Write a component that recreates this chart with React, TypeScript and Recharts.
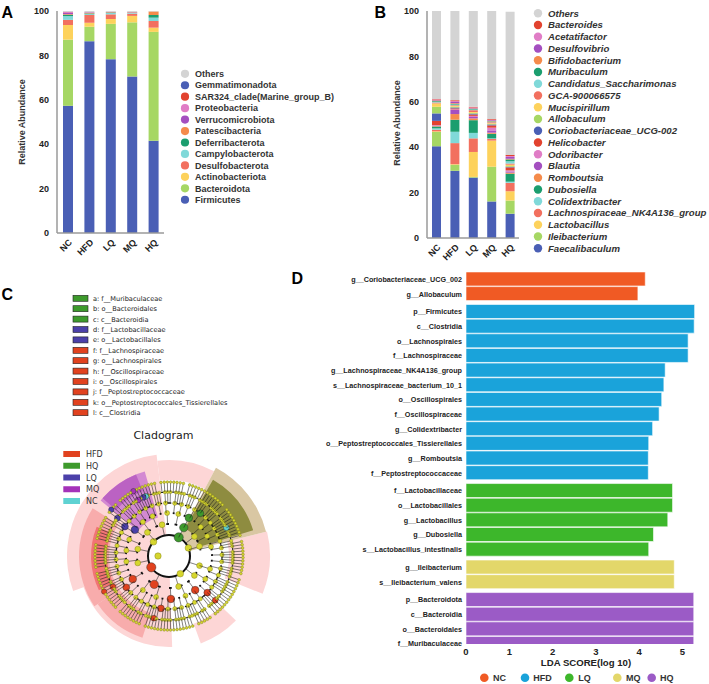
import React from 'react'
import { BarChart, Bar, XAxis, YAxis, Cell, PieChart, Pie } from 'recharts'

const groups = ['NC', 'HFD', 'LQ', 'MQ', 'HQ']

// A: phylum level relative abundance (%), bottom of the stack first
const phyla = [
  'Firmicutes',
  'Bacteroidota',
  'Actinobacteriota',
  'Desulfobacterota',
  'Campylobacterota',
  'Deferribacterota',
  'Patescibacteria',
  'Verrucomicrobiota',
  'Proteobacteria',
  'SAR324_clade(Marine_group_B)',
  'Gemmatimonadota',
  'Others',
]
const phylumValues = [
  [57.3, 86.4, 78.3, 70.5, 41.6],
  [29.8, 6.5, 15.9, 24.4, 49.0],
  [6.6, 1.8, 2.2, 2.9, 1.9],
  [2.3, 3.5, 2.1, 1.0, 3.0],
  [1.7, 0.4, 0.6, 0.3, 1.5],
  [0.6, 0.3, 0.2, 0.1, 1.2],
  [0.3, 0.2, 0.2, 0.2, 1.6],
  [0.5, 0.1, 0.1, 0.1, 0.0],
  [0.4, 0.2, 0.1, 0.1, 0.0],
  [0.1, 0.05, 0.0, 0.0, 0.0],
  [0.1, 0.05, 0.0, 0.0, 0.0],
  [0.3, 0.5, 0.3, 0.4, 0.2],
]

// B: genus level relative abundance (%), bottom of the stack first
const genera = [
  'Faecalibaculum',
  'Ileibacterium',
  'Lactobacillus',
  'Lachnospiraceae_NK4A136_group',
  'Colidextribacter',
  'Dubosiella',
  'Romboutsia',
  'Blautia',
  'Odoribacter',
  'Helicobacter',
  'Coriobacteriaceae_UCG-002',
  'Allobaculum',
  'Mucispirillum',
  'GCA-900066575',
  'Candidatus_Saccharimonas',
  'Muribaculum',
  'Bifidobacterium',
  'Desulfovibrio',
  'Acetatifactor',
  'Bacteroides',
  'Others',
]
const genusValues = [
  [40.4, 29.6, 26.6, 16.1, 10.7],
  [6.3, 2.6, 0.3, 15.3, 5.8],
  [0.3, 0.3, 11.0, 11.5, 4.1],
  [0.7, 9.3, 6.0, 0.7, 3.7],
  [0.6, 5.0, 2.4, 0.3, 0.5],
  [0.8, 5.3, 5.6, 2.0, 3.5],
  [0.2, 2.5, 0.8, 0.5, 0.5],
  [0.2, 1.8, 0.6, 1.0, 0.5],
  [0.2, 0.3, 0.5, 1.2, 0.5],
  [1.9, 0.4, 0.6, 1.0, 1.3],
  [3.3, 0.4, 0.4, 0.4, 0.3],
  [2.9, 0.3, 0.3, 0.3, 0.3],
  [1.5, 0.4, 0.4, 0.3, 0.6],
  [0.4, 0.3, 0.8, 0.4, 0.5],
  [0.3, 0.3, 0.3, 0.2, 1.0],
  [0.3, 0.3, 0.3, 0.2, 0.8],
  [0.3, 0.3, 0.2, 0.2, 0.3],
  [0.2, 0.5, 0.2, 0.3, 0.8],
  [0.2, 0.4, 0.2, 0.2, 0.4],
  [0.2, 0.4, 0.3, 0.3, 0.5],
  [38.8, 39.3, 42.2, 47.6, 63.1],
]

// D: LEfSe biomarkers
const ldaTaxa = [
  'g__Coriobacteriaceae_UCG_002',
  'g__Allobaculum',
  'p__Firmicutes',
  'c__Clostridia',
  'o__Lachnospirales',
  'f__Lachnospiraceae',
  'g__Lachnospiraceae_NK4A136_group',
  's__Lachnospiraceae_bacterium_10_1',
  'o__Oscillospirales',
  'f__Oscillospiraceae',
  'g__Colidextribacter',
  'o__Peptostreptococcales_Tissierellales',
  'g__Romboutsia',
  'f__Peptostreptococcaceae',
  'f__Lactobacillaceae',
  'o__Lactobacillales',
  'g__Lactobacillus',
  'g__Dubosiella',
  's__Lactobacillus_intestinalis',
  'g__Ileibacterium',
  's__Ileibacterium_valens',
  'p__Bacteroidota',
  'c__Bacteroidia',
  'o__Bacteroidales',
  'f__Muribaculaceae',
]
const ldaScores = [
  4.14, 3.97, 5.28, 5.27, 5.13, 5.13, 4.6, 4.57, 4.52, 4.46, 4.31, 4.22, 4.21,
  4.21, 4.77, 4.77, 4.66, 4.33, 4.22, 4.81, 4.81, 5.26, 5.26, 5.26, 5.26,
]
const ldaGroups = [
  'NC', 'NC',
  'HFD', 'HFD', 'HFD', 'HFD', 'HFD', 'HFD', 'HFD', 'HFD', 'HFD', 'HFD', 'HFD', 'HFD',
  'LQ', 'LQ', 'LQ', 'LQ', 'LQ',
  'MQ', 'MQ',
  'HQ', 'HQ', 'HQ', 'HQ',
]

// C: cladogram legend entries
const cladeLetters = [
  'a: f__Muribaculaceae',
  'b: o__Bacteroidales',
  'c: c__Bacteroidia',
  'd: f__Lactobacillaceae',
  'e: o__Lactobacillales',
  'f: f__Lachnospiraceae',
  'g: o__Lachnospirales',
  'h: f__Oscillospiraceae',
  'i: o__Oscillospirales',
  'j: f__Peptostreptococcaceae',
  'k: o__Peptostreptococcales_Tissierellales',
  'l: c__Clostridia',
]
const cladeLetterGroups = ['HQ', 'HQ', 'HQ', 'LQ', 'LQ', 'HFD', 'HFD', 'HFD', 'HFD', 'HFD', 'HFD', 'HFD']
const cladeGroups = ['HFD', 'HQ', 'LQ', 'MQ', 'NC']

// cladogram nodes, one character per angular slot ('.' = no node)
// y = not significant, r = HFD, g = HQ, b = LQ, m = MQ, c = NC
const rootNodes = 'y'
const phylumNodes = [
  '....y.......', 'g...........', '...y........',
  '......r.....', '............', 'y...........',
].join('')
const classNodes = [
  '...y...y....', 'g.......y...', '..y......y..',
  '..y.........', 'r........y..', '....y...y...',
].join('')
const orderNodes = [
  '..y..y..y...', 'g..y..y...y.', '.y..b..y..y.',
  '.y....r...y.', '..y...r...y.', '.r...y..y...',
].join('')
const familyNodes = [
  'y..y..y..y..', 'y..y..y..g..', 'y..y..y..y..', '.y..y..y..y.',
  '.y..y..y..b.', '.y..y..y..y.', '.y..y..y..y.', '..r..y..y..y',
  '..y..y..r..y', '..y..y..y..y', '..y...r..y..', 'y..y..y..y..',
].join('')
const genusNodes = [
  'yy.yyy.yyycy', 'yyy.yyyy.yyy', 'y.yyy.yyyy.y', 'yy.yyy.ycbym',
  'yy.yyyy.ybyy', 'y.yyyyy.yyyy', 'yyy.yyyy.yyr', 'yy.yyyy.yyy.',
  'yy.yyyry.yyy', 'y.yyyy.yyyy.', 'yy.yyyryy.yy', 'yyy.yyyy.yyy',
].join('')
const speciesNodes = [
  'yyyyy.yyyyyy', 'yyyy.yyyyyyy', 'yyyyyy.yyyyy', 'yyy.yyyyyyym',
  'yyyyy.yyby.y', 'yyyyyyy.yyyy', 'yyyy.yyyyyyr', 'yyyyyy.yyyyy',
  'yyy.yyyyyyyy', 'yyyyyyyy.yyy', 'yy.yyyyyyyyy', 'yyyyy.yyyyyy',
].join('')

// highlighted clades: angular span (deg) and radial band
const cladeWedges = [
  { from: -22, to: 14, r0: 60, r1: 101, tone: 'hfd1' },
  { from: 62, to: 97, r0: 76, r1: 96, tone: 'hfd1' },
  { from: 97, to: 200, r0: 22, r1: 102, tone: 'hfd1' },
  { from: 200, to: 272, r0: 22, r1: 91, tone: 'hfd1' },
  { from: 290, to: 316, r0: 72, r1: 93, tone: 'hfd1' },
  { from: 148, to: 214, r0: 60, r1: 90, tone: 'hfd2' },
  { from: 214, to: 252, r0: 60, r1: 86, tone: 'hfd2' },
  { from: 158, to: 206, r0: 62, r1: 78, tone: 'hfd3' },
  { from: 106, to: 141, r0: 40, r1: 88, tone: 'mq1' },
  { from: 112, to: 139, r0: 70, r1: 88, tone: 'mq2' },
  { from: 14, to: 62, r0: 22, r1: 100, tone: 'hq1' },
  { from: 17, to: 60, r0: 32, r1: 88, tone: 'hq2' },
]

const FONT = '"Liberation Sans", Arial, sans-serif'
const MPL_FONT = '"DejaVu Sans", sans-serif'
const AXIS_GREY = '#9a9a9a'

const cycle = ['#4a5fb5', '#a6d764', '#fdd25c', '#f2705f', '#80d9d9', '#1b9e6f', '#f58b4b', '#a44fc0', '#e07dc6', '#e2432f']
const OTHERS = '#d4d4d4'
const colorsFor = (names: string[]) => names.map((n, i) => (n === 'Others' ? OTHERS : cycle[i % cycle.length]))
const phylumColors = colorsFor(phyla)
const genusColors = colorsFor(genera)

const ldaColors: Record<string, string> = {
  NC: '#f05a24',
  HFD: '#1aa3da',
  LQ: '#3db72b',
  MQ: '#e3d76a',
  HQ: '#9b5bc6',
}
const cladeColors: Record<string, string> = {
  HFD: '#e1421f',
  HQ: '#3d9a2c',
  LQ: '#4b40a9',
  MQ: '#a432b9',
  NC: '#5fd2d2',
}
const nodeFill: Record<string, string> = {
  y: '#d6d62e',
  r: cladeColors.HFD,
  g: cladeColors.HQ,
  b: cladeColors.LQ,
  m: cladeColors.MQ,
  c: cladeColors.NC,
}
const wedgeTones: Record<string, string> = {
  hfd1: '#fdd6d6',
  hfd2: '#f8acac',
  hfd3: '#f27474',
  mq1: '#d389d2',
  mq2: '#bb62c3',
  hq1: '#d9c7a3',
  hq2: '#8e8c40',
}

const toRows = (values: number[][]) =>
  groups.map((g, gi) => {
    const row: Record<string, any> = { group: g }
    values.forEach((series, si) => {
      row[`s${si}`] = series[gi]
    })
    return row
  })

const phylumRows = toRows(phylumValues)
const genusRows = toRows(genusValues)

// rows of one group sit together, with a small gap between groups
const ldaRows = ldaTaxa.map((taxon, i) => ({
  taxon,
  score: ldaScores[i],
  group: ldaGroups[i],
  pos: i + 0.22 * groups.indexOf(ldaGroups[i]),
}))
const ldaTicks = ldaRows.map((r) => r.pos)
const taxonAt = (v: number) => {
  let best = ldaRows[0]
  ldaRows.forEach((r) => {
    if (Math.abs(r.pos - v) < Math.abs(best.pos - v)) best = r
  })
  return best.taxon
}

function SlantTick({ x, y, payload }: any) {
  const ax = x + 5
  const ay = y + 8
  return (
    <text
      x={ax}
      y={ay}
      transform={`rotate(-45 ${ax} ${ay})`}
      textAnchor="end"
      fontFamily={FONT}
      fontWeight={700}
      fontSize={9}
      fill="#222"
    >
      {payload.value}
    </text>
  )
}

interface StackProps {
  rows: Record<string, any>[]
  count: number
  colors: string[]
  left: number
  width: number
  height: number
  marginLeft: number
  marginRight: number
  axisWidth: number
  xHeight: number
  barSize: number
}

function StackedPanel(p: StackProps) {
  const keys = Array.from({ length: p.count }, (_, i) => `s${i}`)
  return (
    <div style={{ position: 'absolute', left: p.left, top: 0 }}>
      <BarChart
        width={p.width}
        height={p.height}
        data={p.rows}
        margin={{ top: 11, right: p.marginRight, bottom: 0, left: p.marginLeft }}
      >
        <XAxis
          dataKey="group"
          interval={0}
          height={p.xHeight}
          tick={<SlantTick />}
          tickLine={false}
          tickSize={0}
          axisLine={{ stroke: AXIS_GREY, strokeWidth: 1.5 }}
        />
        <YAxis
          domain={[0, 100]}
          ticks={[0, 20, 40, 60, 80, 100]}
          width={p.axisWidth}
          tickLine={false}
          tickSize={0}
          tickMargin={8}
          axisLine={{ stroke: AXIS_GREY, strokeWidth: 1.5 }}
          tick={{ fontFamily: FONT, fontWeight: 700, fontSize: 9, fill: '#222' }}
        />
        {keys.map((k, i) => (
          <Bar key={k} dataKey={k} stackId="s" fill={p.colors[i]} barSize={p.barSize} isAnimationActive={false} />
        ))}
      </BarChart>
    </div>
  )
}

function LdaPanel() {
  return (
    <div style={{ position: 'absolute', left: 300, top: 262 }}>
      <BarChart
        layout="vertical"
        width={409}
        height={402}
        data={ldaRows}
        margin={{ top: 8.5, right: 13.5, bottom: 0, left: 0 }}
      >
        <XAxis
          type="number"
          domain={[0, 5.3]}
          ticks={[0, 1, 2, 3, 4, 5]}
          height={20}
          axisLine={false}
          tickLine={false}
          tickSize={0}
          tickMargin={4}
          tick={{ fontFamily: FONT, fontWeight: 700, fontSize: 9.5, fill: '#222' }}
        />
        <YAxis
          type="number"
          dataKey="pos"
          domain={[-0.6, 24.89]}
          allowDataOverflow
          ticks={ldaTicks}
          interval={0}
          width={166}
          axisLine={false}
          tickLine={false}
          tickSize={0}
          tickMargin={4}
          tickFormatter={taxonAt}
          tick={{ fontFamily: FONT, fontWeight: 700, fontSize: 7.2, fill: '#222' }}
        />
        <Bar dataKey="score" barSize={14} stroke="#ffffff" strokeWidth={0.6} isAnimationActive={false}>
          {ldaRows.map((r) => (
            <Cell key={r.taxon} fill={ldaColors[r.group]} />
          ))}
        </Bar>
      </BarChart>
    </div>
  )
}

const RADIAN = Math.PI / 180
const polar = (cx: number, cy: number, r: number, angle: number) => ({
  x: cx + r * Math.cos(-angle * RADIAN),
  y: cy + r * Math.sin(-angle * RADIAN),
})

// radius of each taxonomic level, root first
const levelRadii = [11, 21, 32, 43, 53, 64, 74]
const levelDots = [3.2, 3.3, 2.9, 2.5, 2.1, 1.6, 1.35]
const levelArcWidth = [0, 0, 2, 1.8, 1.8, 1.3, 0.8]
const cladeLevels = [rootNodes, phylumNodes, classNodes, orderNodes, familyNodes, genusNodes, speciesNodes]

const slotsOf = (nodes: string) => nodes.split('').map((code) => ({ value: 1, code }))

function nodeLabel(level: number) {
  const nodes = cladeLevels[level]
  return (props: any) => {
    const { cx, cy, midAngle, index } = props
    const code = nodes[index]
    if (!code || code === '.') return <g key={`e${level}-${index}`} />
    const outer = polar(cx, cy, levelRadii[level], midAngle)
    const hasSpoke = level >= 2
    const inner = hasSpoke ? polar(cx, cy, levelRadii[level - 1], midAngle) : outer
    const r = code === 'y' ? levelDots[level] : levelDots[level] + 1.3
    return (
      <g key={`n${level}-${index}`}>
        {hasSpoke && <line x1={inner.x} y1={inner.y} x2={outer.x} y2={outer.y} stroke="#1a1a1a" strokeWidth={0.55} />}
        <circle
          cx={outer.x}
          cy={outer.y}
          r={r}
          fill={nodeFill[code]}
          stroke={code === 'y' ? '#7d7d1c' : '#2a2a2a'}
          strokeWidth={0.45}
        />
      </g>
    )
  }
}

function Cladogram() {
  const C = 120
  return (
    <div style={{ position: 'absolute', left: 44, top: 430.5 }}>
      <PieChart width={240} height={240}>
        {cladeWedges.map((w, i) => (
          <Pie
            key={`w${i}`}
            data={[{ value: 1 }]}
            dataKey="value"
            cx={C}
            cy={C}
            startAngle={w.from}
            endAngle={w.to}
            innerRadius={w.r0}
            outerRadius={w.r1}
            fill={wedgeTones[w.tone]}
            stroke="none"
            isAnimationActive={false}
          />
        ))}
        {/* root circle joining the phyla */}
        <Pie
          data={[{ value: 1 }]}
          dataKey="value"
          cx={C}
          cy={C}
          startAngle={0}
          endAngle={360}
          innerRadius={levelRadii[1] - 1}
          outerRadius={levelRadii[1] + 1}
          fill="#111"
          stroke="none"
          isAnimationActive={false}
        />
        {/* arcs joining siblings, drawn at the parent level radius */}
        {cladeLevels.map((nodes, level) =>
          level < 3 ? null : (
            <Pie
              key={`arc${level}`}
              data={slotsOf(nodes)}
              dataKey="value"
              cx={C}
              cy={C}
              startAngle={0}
              endAngle={360}
              innerRadius={levelRadii[level - 1] - levelArcWidth[level] / 2}
              outerRadius={levelRadii[level - 1] + levelArcWidth[level] / 2}
              stroke="none"
              isAnimationActive={false}
            >
              {slotsOf(nodes).map((s, i) => (
                <Cell key={i} fill={s.code === '.' ? 'none' : '#111'} />
              ))}
            </Pie>
          )
        )}
        {cladeLevels.map((nodes, level) => (
          <Pie
            key={`lvl${level}`}
            data={slotsOf(nodes)}
            dataKey="value"
            cx={C}
            cy={C}
            startAngle={0}
            endAngle={360}
            innerRadius={0}
            outerRadius={levelRadii[level]}
            fill="none"
            stroke="none"
            label={nodeLabel(level)}
            labelLine={false}
            isAnimationActive={false}
          />
        ))}
      </PieChart>
    </div>
  )
}

function Overlay() {
  const letters = [
    { t: 'A', x: 1.5, y: 18.3 },
    { t: 'B', x: 374.5, y: 18.3 },
    { t: 'C', x: 1.5, y: 300 },
    { t: 'D', x: 291.5, y: 283.7 },
  ]
  const phylaLegend = [...phyla].reverse()
  const phylaLegendColors = [...phylumColors].reverse()
  const generaLegend = [...genera].reverse()
  const generaLegendColors = [...genusColors].reverse()
  const ldaLegendDots = [484.3, 525, 569.3, 617.3, 651.7]
  const ldaLegendText = [493, 533.3, 578.3, 626, 660]
  return (
    <svg width={709} height={684} style={{ position: 'absolute', left: 0, top: 0, pointerEvents: 'none' }}>
      {letters.map((l) => (
        <text key={l.t} x={l.x} y={l.y} fontFamily={FONT} fontWeight={700} fontSize={16} fill="#000">
          {l.t}
        </text>
      ))}

      <text x={25} y={122} transform="rotate(-90 25 122)" textAnchor="middle" fontFamily={FONT} fontWeight={700} fontSize={9} fill="#333">
        Relative Abundance
      </text>
      <text x={400} y={123} transform="rotate(-90 400 123)" textAnchor="middle" fontFamily={FONT} fontWeight={700} fontSize={9} fill="#333">
        Relative Abundance
      </text>

      {phylaLegend.map((name, i) => {
        const cy = 73.8 + i * 11.45
        return (
          <g key={name}>
            <circle cx={185} cy={cy} r={4.1} fill={phylaLegendColors[i]} />
            <text x={195} y={cy + 3.2} fontFamily={FONT} fontWeight={700} fontSize={9} fill="#333">
              {name}
            </text>
          </g>
        )
      })}

      {generaLegend.map((name, i) => {
        const cy = 13.3 + i * 11.75
        return (
          <g key={name}>
            <circle cx={538} cy={cy} r={4.2} fill={generaLegendColors[i]} />
            <text x={548} y={cy + 3.4} fontFamily={FONT} fontWeight={700} fontStyle="italic" fontSize={9.6} fill="#333">
              {name}
            </text>
          </g>
        )
      })}

      {cladeLetters.map((label, i) => {
        const cy = 298.3 + i * 10.4
        return (
          <g key={label}>
            <rect x={73} y={cy - 3} width={15} height={6} fill={cladeColors[cladeLetterGroups[i]]} stroke="#222" strokeWidth={0.6} />
            <text x={93} y={cy + 2.4} fontFamily={MPL_FONT} fontSize={6.6} fill="#222">
              {label}
            </text>
          </g>
        )
      })}

      <text x={163.5} y={439} textAnchor="middle" fontFamily={MPL_FONT} fontSize={11} fill="#222">
        Cladogram
      </text>
      {cladeGroups.map((g, i) => {
        const cy = 454 + i * 11.75
        return (
          <g key={g}>
            <rect x={63.3} y={cy - 3} width={16.7} height={6} fill={cladeColors[g]} />
            <text x={86} y={cy + 3} fontFamily={MPL_FONT} fontSize={8} fill="#333">
              {g}
            </text>
          </g>
        )
      })}

      <text x={586} y={666} textAnchor="middle" fontFamily={FONT} fontWeight={700} fontSize={9.6} fill="#222">
        LDA SCORE(log 10)
      </text>
      {groups.map((g, i) => (
        <g key={g}>
          <circle cx={ldaLegendDots[i]} cy={677.7} r={4.3} fill={ldaColors[g]} />
          <text x={ldaLegendText[i]} y={681} fontFamily={FONT} fontWeight={700} fontSize={9} fill="#333">
            {g}
          </text>
        </g>
      ))}
    </svg>
  )
}

export default function App() {
  return (
    <div
      style={{
        position: 'absolute',
        left: 0,
        top: 0,
        width: 709,
        height: 684,
        background: '#fff',
        fontFamily: FONT,
        overflow: 'hidden',
      }}
    >
      <StackedPanel
        rows={phylumRows}
        count={phyla.length}
        colors={phylumColors}
        left={0}
        width={175}
        height={262}
        marginLeft={27}
        marginRight={11}
        axisWidth={30}
        xHeight={29}
        barSize={10}
      />
      <StackedPanel
        rows={genusRows}
        count={genera.length}
        colors={genusColors}
        left={355}
        width={171}
        height={265}
        marginLeft={37}
        marginRight={7}
        axisWidth={35}
        xHeight={27}
        barSize={9}
      />
      <Cladogram />
      <LdaPanel />
      <Overlay />
    </div>
  )
}
